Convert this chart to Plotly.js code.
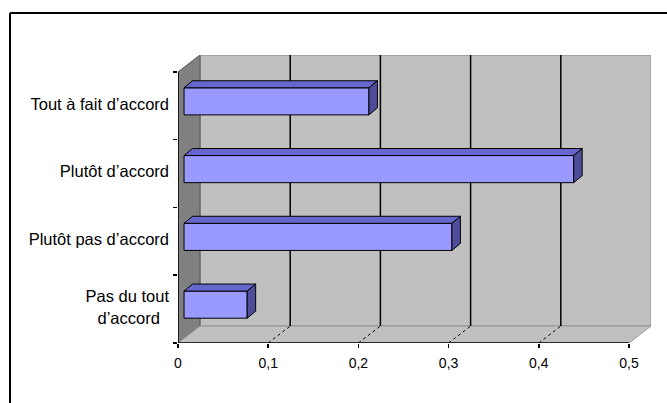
<!DOCTYPE html>
<html><head><meta charset="utf-8">
<script src="https://cdn.plot.ly/plotly-3.0.1.min.js"></script>
<style>html,body{margin:0;padding:0;background:#fff}</style>
</head><body><div id="chart" style="width:667px;height:403px"></div>
<script>
// ---- data ----
const categories = ["Pas du tout<br>d’accord\u00A0\u00A0", "Plutôt pas d’accord", "Plutôt d’accord", "Tout à fait d’accord"];
const values = [0.07, 0.297, 0.432, 0.205];
const xTickVals = [0, 0.1, 0.2, 0.3, 0.4, 0.5];
const xTickText = ["0", "0,1", "0,2", "0,3", "0,4", "0,5"];

// ---- 3D geometry (axis units) ----
const xMax = 0.5;
const wallDx = 0.0244, wallDy = 0.25;      // depth of walls
const barDx = 0.0067, barDy = 0.066;       // bar front-face offset into depth
const faceDx = 0.0094, faceDy = 0.104;     // bar depth
const barW = 0.4;
const pos = categories.map((c, i) => i);
const yLo = -0.5, yHi = categories.length - 0.5;

const traces = [];
// top and side faces
pos.forEach((p, i) => {
  const v = values[i];
  const yc = p + barDy, x0 = barDx, x1 = barDx + v;
  traces.push({type: 'scatter', mode: 'lines', fill: 'toself', fillcolor: '#6666CC',
    line: {color: '#000', width: 1},
    x: [x0, x1, x1 + faceDx, x0 + faceDx, x0],
    y: [yc + barW/2, yc + barW/2, yc + barW/2 + faceDy, yc + barW/2 + faceDy, yc + barW/2],
    hoverinfo: 'skip', showlegend: false});
  traces.push({type: 'scatter', mode: 'lines', fill: 'toself', fillcolor: '#4D4D99',
    line: {color: '#000', width: 1},
    x: [x1, x1 + faceDx, x1 + faceDx, x1, x1],
    y: [yc - barW/2, yc - barW/2 + faceDy, yc + barW/2 + faceDy, yc + barW/2, yc - barW/2],
    hoverinfo: 'skip', showlegend: false});
});
// front faces
traces.push({type: 'bar', orientation: 'h', x: values, y: pos.map(p => p + barDy),
  base: values.map(() => barDx), width: barW,
  marker: {color: '#9999FF', line: {color: '#000', width: 1}},
  hoverinfo: 'skip', showlegend: false});

const shapes = [];
// back wall
shapes.push({type: 'rect', xref: 'x', yref: 'y', layer: 'below',
  x0: wallDx, x1: xMax + wallDx, y0: yLo + wallDy, y1: yHi + wallDy,
  fillcolor: '#C0C0C0', line: {color: '#999999', width: 1.5}});
// left wall
shapes.push({type: 'path', xref: 'x', yref: 'y', layer: 'below',
  path: `M0,${yLo} L${wallDx},${yLo + wallDy} L${wallDx},${yHi + wallDy} L0,${yHi} Z`,
  fillcolor: '#808080', line: {color: '#555555', width: 1}});
// floor
shapes.push({type: 'path', xref: 'x', yref: 'y', layer: 'below',
  path: `M0,${yLo} L${xMax},${yLo} L${xMax + wallDx},${yLo + wallDy} L${wallDx},${yLo + wallDy} Z`,
  fillcolor: '#C0C0C0', line: {color: '#999999', width: 1}});
// grid lines on back wall + floor
xTickVals.slice(1, -1).forEach(v => {
  shapes.push({type: 'line', xref: 'x', yref: 'y', layer: 'below',
    x0: v + wallDx, x1: v + wallDx, y0: yLo + wallDy, y1: yHi + wallDy,
    line: {color: '#000', width: 1.5}});
  shapes.push({type: 'line', xref: 'x', yref: 'y', layer: 'below',
    x0: v, x1: v + wallDx, y0: yLo, y1: yLo + wallDy,
    line: {color: '#000', width: 1, dash: 'dot'}});
});
// axis lines
shapes.push({type: 'line', xref: 'x', yref: 'y', x0: 0, x1: xMax, y0: yLo, y1: yLo, line: {color: '#000', width: 1.5}});
shapes.push({type: 'line', xref: 'x', yref: 'y', x0: 0, x1: 0, y0: yLo, y1: yHi, line: {color: '#000', width: 1.5}});

// outer chart border (paper coords computed from pixels)
const L = 178, T = 55, W = 473, H = 288;
const px = X => (X - L) / W, py = Y => (T + H - Y) / H;
shapes.push({type: 'line', xref: 'paper', yref: 'paper', x0: px(10), x1: px(680), y0: py(13), y1: py(13), line: {color: '#000', width: 2}});
shapes.push({type: 'line', xref: 'paper', yref: 'paper', x0: px(10), x1: px(10), y0: py(13), y1: py(420), line: {color: '#000', width: 2}});

const layout = {
  width: 667, height: 403,
  margin: {l: L, r: 667 - L - W, t: T, b: 403 - T - H, pad: 0},
  paper_bgcolor: '#fff', plot_bgcolor: 'rgba(0,0,0,0)',
  font: {family: 'Liberation Sans, Arial, sans-serif', color: '#000'},
  showlegend: false,
  bargap: 0,
  xaxis: {range: [0, xMax + wallDx], showgrid: false, zeroline: false, showline: false,
    tickvals: xTickVals, ticktext: xTickText, ticks: 'outside', ticklen: 4, tickcolor: '#000', tickwidth: 1.5,
    ticklabelstandoff: 3, tickfont: {size: 14}, fixedrange: true},
  yaxis: {range: [yLo, yHi + wallDy], showgrid: false, zeroline: false, showline: false,
    tickvals: pos.map(p => p + 0.03), ticktext: categories, ticks: '', ticklabelstandoff: 8,
    tickfont: {size: 16.5},
    minor: {tickvals: [-0.5, 0.5, 1.5, 2.5, 3.5], ticks: 'outside', ticklen: 4, tickcolor: '#000', tickwidth: 1.5, showgrid: false},
    fixedrange: true},
  shapes: shapes
};
Plotly.newPlot('chart', traces, layout, {staticPlot: true, displayModeBar: false});
</script></body></html>
